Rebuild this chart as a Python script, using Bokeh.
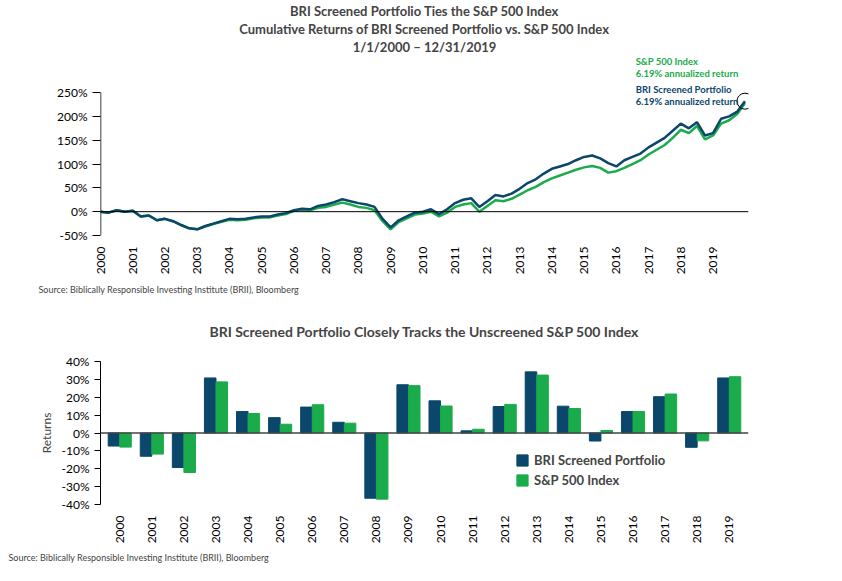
import math
from bokeh.plotting import figure
from bokeh.layouts import column
from bokeh.models import (FixedTicker, Range1d, Label, Title, Span, ColumnDataSource,
                          FactorRange, Legend, LegendItem, CustomJSTickFormatter)
from bokeh.transform import dodge
from bokeh.embed import file_html
from bokeh.resources import INLINE

NAVY = "#0b466b"
GREEN = "#1aab4b"
FONT = "Lato"

# Cumulative returns (%), quarterly points
t_cum = [2000 + i * 0.25 for i in range(80)] + [2019.99]
bri_cum = [0, -2, 3, 0, 2, -10, -8, -18, -15, -20, -28, -35, -37, -30, -25, -20,
           -15, -16, -15, -12, -10, -10, -6, -3, 3, 6, 5, 12, 15, 20, 26, 22,
           18, 15, 10, -15, -33, -18, -10, -2, 0, 5, -5, 5, 18, 25, 28, 10,
           22, 35, 32, 38, 48, 60, 68, 80, 90, 95, 100, 108, 115, 118, 112, 102,
           95, 108, 115, 122, 135, 145, 155, 170, 185, 175, 188, 160, 165, 195, 200, 210, 232]
sp_cum = [0, -2, 3, 0, 2, -10, -8, -18, -15, -20, -28, -35, -37, -31, -26, -21,
          -17, -18, -17, -14, -12, -12, -8, -5, 2, 4, 3, 8, 10, 15, 19, 15,
          10, 8, 3, -20, -37, -22, -14, -6, -4, 0, -10, -2, 10, 15, 18, 0,
          12, 24, 22, 27, 36, 45, 52, 62, 70, 76, 82, 88, 93, 96, 92, 82,
          85, 92, 100, 108, 120, 130, 140, 155, 172, 165, 180, 152, 160, 185, 192, 205, 228]

years = [str(y) for y in range(2000, 2020)]
bri_ret = [-7.3, -13.0, -19.3, 30.8, 12.0, 8.6, 14.5, 6.0, -36.5, 27.0,
           18.0, 1.2, 14.8, 34.2, 15.0, -4.5, 12.0, 20.3, -8.0, 30.8]
sp_ret = [-7.9, -11.8, -22.1, 28.6, 10.9, 4.9, 15.8, 5.5, -37.0, 26.5,
          15.1, 2.1, 16.0, 32.4, 13.7, 1.4, 12.0, 21.8, -4.4, 31.5]

# ---------- top chart ----------
p1 = figure(width=826, height=298, output_backend="svg", toolbar_location=None,
            x_range=Range1d(2000, 2020.1), y_range=Range1d(-50, 330),
            min_border_left=70, min_border_right=78, min_border_bottom=8, min_border_top=10)
p1.outline_line_color = None
p1.grid.grid_line_color = None
p1.line(t_cum, sp_cum, color=GREEN, line_width=2.5)
p1.line(t_cum, bri_cum, color=NAVY, line_width=2.5)
p1.scatter([t_cum[-1]], [bri_cum[-1]], size=16, fill_color=None, line_color="black", line_width=1)
p1.add_layout(Span(location=0, dimension="width", line_color="black", line_width=1))
p1.segment(x0=[2000], y0=[-50], x1=[2000], y1=[250], line_color="black", line_width=1.5)
p1.xaxis.ticker = FixedTicker(ticks=list(range(2000, 2020)))
p1.xaxis.major_label_orientation = math.pi / 2
p1.xaxis.axis_line_color = None
p1.xaxis.major_tick_line_color = None
p1.xaxis.minor_tick_line_color = None
p1.yaxis.ticker = FixedTicker(ticks=[-50, 0, 50, 100, 150, 200, 250])
p1.yaxis.formatter = CustomJSTickFormatter(code="return tick + '%';")
p1.yaxis.axis_line_color = None
p1.yaxis.minor_tick_line_color = None
p1.yaxis.major_tick_in = 0
p1.yaxis.major_tick_out = 8
for ax in (p1.xaxis, p1.yaxis):
    ax.major_label_text_font = FONT
    ax.major_label_text_font_size = "12px"
    ax.major_label_text_color = "black"
p1.add_layout(Title(text="Source: Biblically Responsible Investing Institute (BRII), Bloomberg",
                    text_font=FONT, text_font_size="9px", text_font_style="normal",
                    offset=-62, standoff=8), "below")
for txt in ["1/1/2000 \u2013 12/31/2019", "Cumulative Returns of BRI Screened Portfolio vs. S&P 500 Index",
            "BRI Screened Portfolio Ties the S&P 500 Index"]:
    p1.add_layout(Title(text=txt, align="center", text_font=FONT, text_font_size="13px",
                        text_font_style="bold", standoff=0, offset=-30), "above")
for txt, ys, c in [("S&P 500 Index", 174, GREEN), ("6.19% annualized return", 162, GREEN),
                   ("BRI Screened Portfolio", 146, NAVY), ("6.19% annualized return", 134, NAVY)]:
    p1.add_layout(Label(x=2016.6, y=ys, y_units="screen", text=txt, text_color=c, text_font=FONT,
                        text_font_size="9.5px", text_font_style="bold", text_baseline="middle"))

# ---------- bottom chart ----------
src = ColumnDataSource(dict(year=years, bri=bri_ret, sp=sp_ret))
p2 = figure(width=826, height=267, output_backend="svg", toolbar_location=None,
            x_range=FactorRange(*years, range_padding=0.01), y_range=Range1d(-40, 40),
            min_border_left=100, min_border_right=19, min_border_top=58, min_border_bottom=57)
p2.outline_line_color = None
p2.grid.grid_line_color = None
r1 = p2.vbar(x=dodge("year", -0.18, range=p2.x_range), top="bri", width=0.36, source=src,
             color=NAVY)
r2 = p2.vbar(x=dodge("year", 0.18, range=p2.x_range), top="sp", width=0.36, source=src,
             color=GREEN)
p2.add_layout(Span(location=0, dimension="width", line_color="#444444", line_width=1.5))
p2.yaxis.ticker = FixedTicker(ticks=list(range(-40, 41, 10)))
p2.yaxis.formatter = CustomJSTickFormatter(code="return tick + '%';")
p2.yaxis.axis_label = "Returns"
p2.yaxis.axis_label_text_font = FONT
p2.yaxis.axis_label_text_font_style = "normal"
p2.yaxis.axis_label_text_font_size = "12px"
p2.yaxis.minor_tick_line_color = None
p2.yaxis.major_tick_in = 0
p2.yaxis.major_tick_out = 6
p2.xaxis.axis_line_color = None
p2.xaxis.major_tick_line_color = None
p2.xaxis.major_label_orientation = math.pi / 2
for ax in (p2.xaxis, p2.yaxis):
    ax.major_label_text_font = FONT
    ax.major_label_text_font_size = "12px"
    ax.major_label_text_color = "black"
leg = Legend(items=[LegendItem(label="BRI Screened Portfolio", renderers=[r1]),
                    LegendItem(label="S&P 500 Index", renderers=[r2])],
             location=(415, 16), border_line_color=None, background_fill_alpha=0,
             label_text_font=FONT, label_text_font_size="13px", label_text_font_style="bold",
             glyph_width=14, glyph_height=14, spacing=4)
p2.add_layout(leg, "center")
p2.add_layout(Title(text="Source: Biblically Responsible Investing Institute (BRII), Bloomberg",
                    text_font=FONT, text_font_size="9px", text_font_style="normal",
                    offset=-92, standoff=6), "below")
p2.add_layout(Title(text="BRI Screened Portfolio Closely Tracks the Unscreened S&P 500 Index",
                    align="center", text_font=FONT, text_font_size="14px",
                    text_font_style="bold", standoff=44), "above")

layout = column(p1, p2, spacing=0)
open("out.html", "w").write(file_html(layout, INLINE))
